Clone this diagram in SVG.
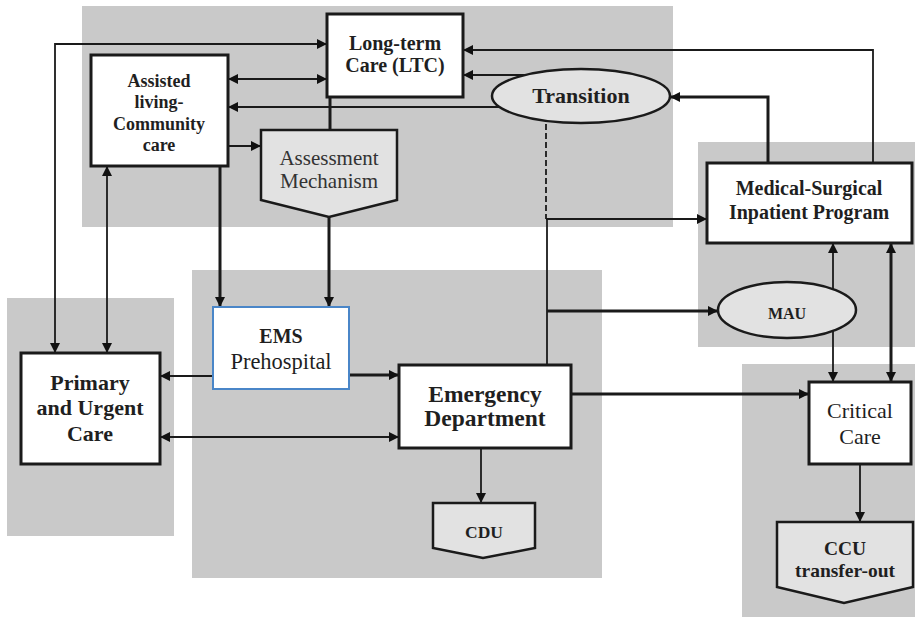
<svg xmlns="http://www.w3.org/2000/svg" width="915" height="617" viewBox="0 0 915 617">
<defs>
<marker id="ah" markerUnits="userSpaceOnUse" markerWidth="10" markerHeight="10" viewBox="0 0 10 10" refX="10" refY="5" orient="auto-start-reverse">
<path d="M0,0 L10,5 L0,10 z" fill="#111"/>
</marker>
<style>
.bg{fill:#c9c9c9}
.box{fill:#fff;stroke:#1a1a1a;stroke-width:3}
.shape{fill:#e2e2e2;stroke:#1a1a1a;stroke-width:2.5}
.c{fill:none;stroke:#1a1a1a;stroke-width:1.8}
.t{fill:none;stroke:#1a1a1a;stroke-width:3}
.a{marker-end:url(#ah)}
.d{marker-start:url(#ah);marker-end:url(#ah)}
text{font-family:"Liberation Serif","DejaVu Serif",serif;fill:#1f1f1f;text-anchor:middle}
.b{font-weight:bold}
</style>
</defs>
<g id="backgrounds">
<rect class="bg" x="82" y="6" width="591" height="221"/>
<rect class="bg" x="7" y="298" width="167" height="238"/>
<rect class="bg" x="192" y="270" width="410" height="308"/>
<rect class="bg" x="698" y="142" width="217" height="205"/>
<rect class="bg" x="742" y="364" width="173" height="253"/>
</g>
<g id="connectors">
<path class="c d" d="M55,353 V44 H327"/>
<path class="c d" d="M107,353 V166"/>
<path class="c d" d="M228,79 H327"/>
<path class="c a" d="M520,107 H228"/>
<path class="c a" d="M228,146 H261"/>
<path class="t" d="M330,97 V130"/>
<path class="t a" d="M220,166 V307"/>
<path class="t a" d="M329,217 V307"/>
<path class="c a" d="M873,163 V50 H463"/>
<path class="c a" d="M540,75 H463"/>
<path class="t a" d="M768,163 V97 H670"/>
<path class="c" d="M546,124 V219" stroke-dasharray="6,3"/>
<path class="c a" d="M546,219 H707"/>
<path class="c" d="M547,219 V365"/>
<path class="t a" d="M547,311 H718"/>
<path class="c d" d="M833,243 V382"/>
<path class="t d" d="M891,243 V382"/>
<path class="t a" d="M571,394 H809"/>
<path class="c a" d="M481,448 V503"/>
<path class="c a" d="M860,464 V522"/>
<path class="c a" d="M213,376 H160"/>
<path class="t a" d="M349,375 H399"/>
<path class="c d" d="M160,437 H399"/>
</g>
<g id="ltc">
<rect class="box" x="327" y="14" width="136" height="83"/>
<text class="b" font-size="20" x="395" y="50">Long-term</text>
<text class="b" font-size="20" x="395" y="72">Care (LTC)</text>
</g>
<g id="assisted">
<rect class="box" x="91" y="55" width="137" height="111"/>
<text class="b" font-size="18" x="159" y="87">Assisted</text>
<text class="b" font-size="18" x="159" y="108">living-</text>
<text class="b" font-size="18" x="159" y="130">Community</text>
<text class="b" font-size="18" x="159" y="151">care</text>
</g>
<g id="assessment">
<path class="shape" d="M261,130 H397 V200 L329,217 L261,200 Z"/>
<text font-size="21" x="329" y="165" style="fill:#333">Assessment</text>
<text font-size="21" x="329" y="188" style="fill:#333">Mechanism</text>
</g>
<g id="transition">
<ellipse class="shape" cx="581" cy="96" rx="89" ry="27"/>
<text class="b" font-size="22" x="581" y="103">Transition</text>
</g>
<g id="medsurg">
<rect class="box" x="707" y="163" width="205" height="80"/>
<text class="b" font-size="20" x="809" y="195">Medical-Surgical</text>
<text class="b" font-size="20" x="809" y="219">Inpatient Program</text>
</g>
<g id="ems">
<rect x="213" y="307" width="136" height="82" fill="#fff" stroke="#4a86c8" stroke-width="2"/>
<text class="b" font-size="20" x="281" y="343">EMS</text>
<text font-size="22.5" x="281" y="369">Prehospital</text>
</g>
<g id="primary">
<rect class="box" x="21" y="353" width="139" height="111"/>
<text class="b" font-size="22" x="90" y="390">Primary</text>
<text class="b" font-size="22" x="90" y="415">and Urgent</text>
<text class="b" font-size="22" x="90" y="441">Care</text>
</g>
<g id="ed">
<rect class="box" x="399" y="365" width="172" height="83"/>
<text class="b" font-size="23.5" x="485" y="402">Emergency</text>
<text class="b" font-size="23.5" x="485" y="426">Department</text>
</g>
<g id="cdu">
<path class="shape" d="M433,503 H535 V548 L483,558 L433,548 Z"/>
<text class="b" font-size="17.5" x="484" y="538">CDU</text>
</g>
<g id="mau">
<ellipse class="shape" cx="787" cy="310" rx="69" ry="28"/>
<text class="b" font-size="16" x="787" y="319">MAU</text>
</g>
<g id="critical">
<rect class="box" x="809" y="382" width="102" height="82"/>
<text font-size="22" x="860" y="418">Critical</text>
<text font-size="22" x="860" y="444">Care</text>
</g>
<g id="ccu">
<path class="shape" d="M777,522 H913 V587 L844,603 L777,587 Z"/>
<text class="b" font-size="19.5" x="845" y="555">CCU</text>
<text class="b" font-size="19.5" x="845" y="577">transfer-out</text>
</g>
</svg>
